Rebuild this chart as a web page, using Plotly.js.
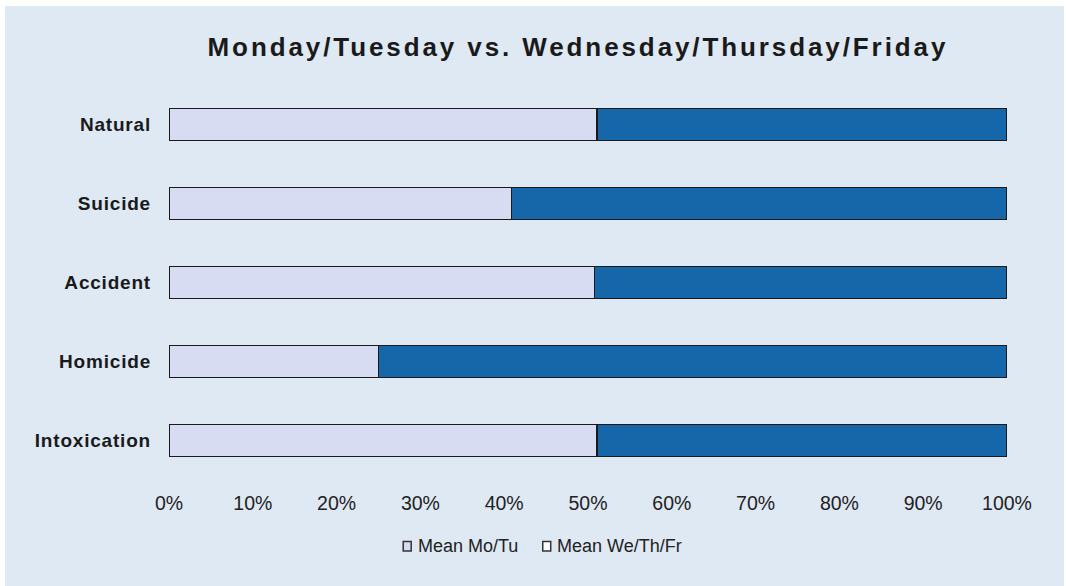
<!DOCTYPE html>
<html>
<head>
<meta charset="utf-8">
<script src="https://cdn.plot.ly/plotly-3.0.1.min.js"></script>
<style>
  html, body { margin: 0; padding: 0; background: #ffffff; width: 1066px; height: 586px; overflow: hidden; }
  #chart { position: absolute; left: 5px; top: 6px; width: 1059px; height: 580px; }
  #chart .gtitle { letter-spacing: 2.9px; }
  #chart .ytick text { letter-spacing: 0.8px; }
</style>
</head>
<body>
<div id="chart"></div>
<script>
const categories = ["Natural", "Suicide", "Accident", "Homicide", "Intoxication"];
const meanMoTu = [51.1, 40.9, 50.8, 25.0, 51.1];
const meanWeThFr = [48.9, 59.1, 49.2, 75.0, 48.9];
const seriesNames = ["Mean Mo/Tu", "Mean We/Th/Fr"];
const tickVals = [0, 10, 20, 30, 40, 50, 60, 70, 80, 90, 100];
const tickText = ["0%", "10%", "20%", "30%", "40%", "50%", "60%", "70%", "80%", "90%", "100%"];

const lightColor = "#d7dcf2";
const darkColor = "#1667aa";
const outline = "#1a1a1a";

const traces = [
  {
    type: "bar", orientation: "h", name: seriesNames[0],
    y: categories, x: meanMoTu,
    marker: { color: lightColor, line: { color: outline, width: 1.5 } },
    showlegend: false, hoverinfo: "x+y+name"
  },
  {
    type: "bar", orientation: "h", name: seriesNames[1],
    y: categories, x: meanWeThFr,
    marker: { color: darkColor, line: { color: outline, width: 1.5 } },
    showlegend: false, hoverinfo: "x+y+name"
  }
];

const legendFont = { family: "Liberation Sans, Arial, sans-serif", size: 18, color: "#222222" };

const layout = {
  width: 1059, height: 580,
  margin: { l: 164, r: 57, t: 79, b: 106, pad: 0 },
  paper_bgcolor: "#dfe9f4",
  plot_bgcolor: "#dfe9f4",
  barmode: "stack",
  bargap: 0.6,
  title: {
    text: "Monday/Tuesday vs. Wednesday/Thursday/Friday",
    font: { family: "Liberation Sans, Arial, sans-serif", size: 26, color: "#1a1a1a", weight: "bold" },
    x: 0.5410, xanchor: "center", xref: "container",
    y: 0.929, yanchor: "middle", yref: "container"
  },
  xaxis: {
    range: [0, 100],
    tickvals: tickVals, ticktext: tickText,
    showgrid: false, zeroline: false, showline: false, ticks: "",
    ticklabelstandoff: 9,
    tickfont: { family: "Liberation Sans, Arial, sans-serif", size: 19.5, color: "#222222" },
    fixedrange: true
  },
  yaxis: {
    categoryorder: "array", categoryarray: categories,
    autorange: "reversed",
    showgrid: false, zeroline: false, showline: false, ticks: "",
    ticklabelstandoff: 17,
    tickfont: { family: "Liberation Sans, Arial, sans-serif", size: 19, color: "#1a1a1a", weight: "bold" },
    fixedrange: true
  },
  shapes: [
    { type: "rect", xref: "paper", yref: "paper", x0: 0.2795, x1: 0.2890, y0: -0.156, y1: -0.180,
      fillcolor: lightColor, line: { color: "#333333", width: 1.5 } },
    { type: "rect", xref: "paper", yref: "paper", x0: 0.4460, x1: 0.4555, y0: -0.156, y1: -0.180,
      fillcolor: "#ffffff", line: { color: "#333333", width: 1.5 } }
  ],
  annotations: [
    { text: seriesNames[0], xref: "paper", yref: "paper", x: 0.2945, y: -0.168,
      xanchor: "left", yanchor: "middle", showarrow: false, font: legendFont },
    { text: seriesNames[1], xref: "paper", yref: "paper", x: 0.4612, y: -0.168,
      xanchor: "left", yanchor: "middle", showarrow: false, font: legendFont }
  ]
};

Plotly.newPlot("chart", traces, layout, { staticPlot: true, displayModeBar: false });
</script>
</body>
</html>
